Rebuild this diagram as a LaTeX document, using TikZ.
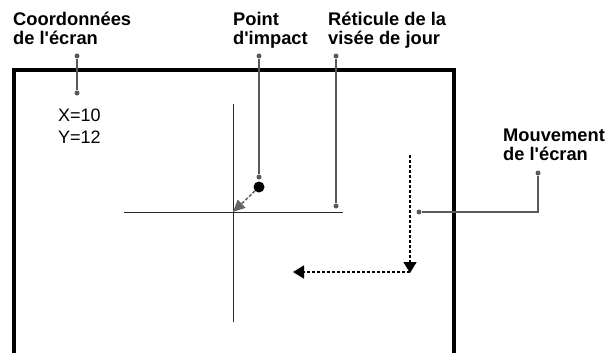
\documentclass[tikz,border=0pt]{standalone}
\usepackage{fontspec}
\setmainfont{Liberation Sans}
\usetikzlibrary{arrows.meta,positioning}
\newcommand{\apos}{\textquotesingle}
\begin{document}
\begin{tikzpicture}[x=1pt,y=-1pt,>=Triangle,
  legende/.style={font=\bfseries\fontsize{18.3}{19}\selectfont,align=left,anchor=base west,inner sep=0pt},
  valeur/.style={font=\fontsize{18}{22}\selectfont,align=left,anchor=base west,inner sep=0pt},
  renvoi/.style={draw=black!65,line width=1.3pt},
  pastille/.style={circle,fill=black!65,inner sep=0pt,minimum size=5pt},
  reticule/.style={draw=black!85,line width=1pt},
  mouvement/.style={draw=black,dash pattern=on 3pt off 2pt,line width=1.6pt,-{Triangle[length=11pt,width=13pt]}}]
  \useasboundingbox (0,0) rectangle (607,353);
  % cadre de l'écran
  \draw[line width=4pt] (14,353) -- (14,70) -- (454,70) -- (454,353);
  % réticule
  \coordinate (haut) at (233,104);
  \coordinate (bas) at (233,322);
  \coordinate (gauche) at (124,212);
  \coordinate (droite) at (343,212);
  \coordinate (centre) at (233,212);
  \draw[reticule] (haut) -- (bas);
  \draw[reticule] (gauche) -- (droite);
  % point d'impact
  \node[circle,fill=black,inner sep=0pt,minimum size=11pt] (impact) at (259,187) {};
  \draw[draw=black!60,dash pattern=on 3pt off 2pt,line width=1.6pt,-{Triangle[length=12pt,width=11pt]},fill=black!60] (impact) -- (centre);
  % mouvement de l'écran
  \coordinate (depart) at (410,155);
  \coordinate (coin) at (410,272);
  \coordinate (fin) at (293,272);
  \draw[mouvement] (depart) -- ([yshift=-1pt]coin);
  \draw[mouvement] (coin) -- (fin);
  % légendes
  \node[legende] (coord) at (13,45) {Coordonnées\\de l\apos écran};
  \node[legende] (point) at (233,45) {Point\\d\apos impact};
  \node[legende] (visee) at (328,45) {Réticule de la\\visée de jour};
  \node[legende] (mouv) at (503,160) {Mouvement\\de l\apos écran};
  \node[valeur] (xy) at (58,143) {X=10\\Y=12};
  % renvois
  \foreach \nom/\a/\b in {c1/77/56, c2/77/93, p1/259/56, p2/259/177, v1/336/56, v2/336/206, m1/538/173, m2/419/212}
    \node[pastille] (\nom) at (\a,\b) {};
  \draw[renvoi] (c1) -- (c2);
  \draw[renvoi] (p1) -- (p2);
  \draw[renvoi] (v1) -- (v2);
  \draw[renvoi] (m1) |- (m2);
\end{tikzpicture}
\end{document}
